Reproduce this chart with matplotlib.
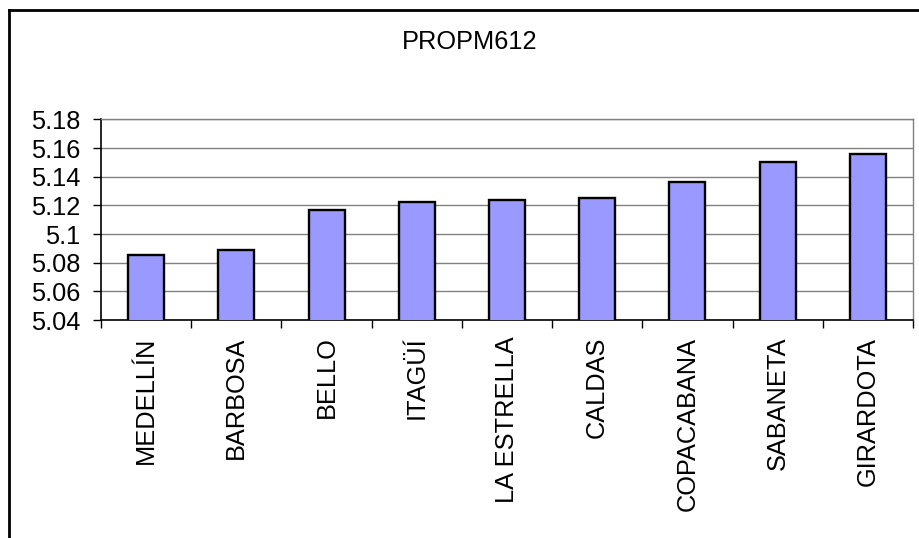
import matplotlib
matplotlib.use("Agg")
import matplotlib.pyplot as plt
from matplotlib.lines import Line2D
import numpy as np

plt.rcParams['font.family'] = ['Liberation Sans', 'DejaVu Sans']

municipios = ["MEDELLÍN", "BARBOSA", "BELLO", "ITAGÜÍ", "LA ESTRELLA",
              "CALDAS", "COPACABANA", "SABANETA", "GIRARDOTA"]
propm612 = [5.0852, 5.0889, 5.1168, 5.1224, 5.1240, 5.1252, 5.1366, 5.1503, 5.1559]
yticks = [5.04, 5.06, 5.08, 5.1, 5.12, 5.14, 5.16, 5.18]
ytick_labels = ["5.04", "5.06", "5.08", "5.1", "5.12", "5.14", "5.16", "5.18"]

fig = plt.figure(figsize=(9.2, 5.38), dpi=100)
ax = fig.add_axes([0.1098, 0.4052, 0.8826, 0.3727])

x = np.arange(len(municipios))
ax.bar(x, propm612, width=0.4, color="#9999FF", edgecolor="black",
       linewidth=1.7, zorder=3)

ax.set_xlim(-0.5, len(municipios) - 0.5)
ax.set_ylim(5.04, 5.18)
ax.set_yticks(yticks)
ax.set_yticklabels(ytick_labels, fontsize=18.3)
ax.yaxis.grid(True, color="#808080", linewidth=1.0, zorder=0)

# category labels at the centres, tick marks between categories
ax.set_xticks(x)
ax.set_xticklabels(municipios, rotation=90, fontsize=18.3)
ax.set_xticks(np.arange(len(municipios) + 1) - 0.5, minor=True)
ax.tick_params(axis="x", which="major", length=0, pad=12)
ax.tick_params(axis="x", which="minor", length=6, width=1, color="black")
ax.tick_params(axis="y", length=6, width=1, pad=9)

for side in ["left", "bottom"]:
    ax.spines[side].set_color("black")
    ax.spines[side].set_linewidth(1.2)
for side in ["top", "right"]:
    ax.spines[side].set_color("#808080")
    ax.spines[side].set_linewidth(1.0)

fig.text(0.511, 0.922, "PROPM612", ha="center", va="center", fontsize=18.3)

# outer chart border (top and left edges)
fig.add_artist(Line2D([8.5 / 920, 1.0], [1 - 10 / 538, 1 - 10 / 538],
                      color="black", linewidth=2, transform=fig.transFigure))
fig.add_artist(Line2D([8.5 / 920, 8.5 / 920], [0.0, 1 - 10 / 538],
                      color="black", linewidth=2, transform=fig.transFigure))

fig.savefig("out.png", dpi=100)
